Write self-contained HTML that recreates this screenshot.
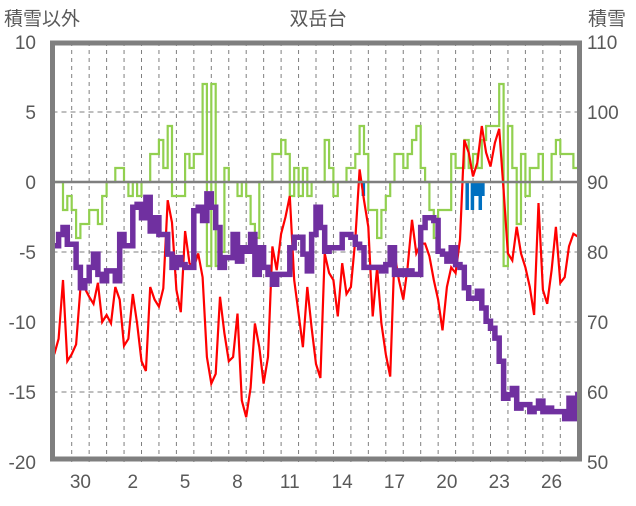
<!DOCTYPE html>
<html><head><meta charset="utf-8">
<style>
body{margin:0;background:#fff;width:636px;height:501px;overflow:hidden;}
svg text{font-family:"Liberation Sans","Noto Sans CJK JP",sans-serif;fill:#595959;font-size:19px;}
</style></head><body>
<svg id="chart" width="636" height="501" xmlns="http://www.w3.org/2000/svg">
<g id="grid"></g>
<g id="series"></g>
<rect x="52.5" y="43" width="527" height="416" fill="none" stroke="#7f7f7f" stroke-width="5"/>
<text x="318" y="25" text-anchor="middle">双岳台</text>
<text x="4" y="25">積雪以外</text>
<text x="588" y="25">積雪</text>
<g id="axes"></g>
</svg>
<script>
const leftTicks=[10,5,0,-5,-10,-15,-20];
const rightTicks=[110,100,90,80,70,60,50];
const xLabels=["30","2","5","8","11","14","17","20","23","26"];
const xLabelDays=[0,3,6,9,12,15,18,21,24,27];
const tStart=-1, tStep=0.25;
const redVals=[-12.3,-11.2,-7.0,-12.8,-12.3,-11.6,-7.6,-7.6,-8.2,-8.7,-7.2,-10.0,-9.5,-10.1,-7.5,-8.4,-11.7,-11.2,-8.0,-10.1,-12.8,-13.5,-7.5,-8.4,-8.9,-7.6,-1.3,-2.9,-7.7,-9.3,-3.5,-5.8,-6.1,-5.1,-6.8,-12.5,-14.4,-13.7,-8.2,-10.8,-12.8,-12.5,-9.4,-15.6,-16.8,-14.7,-10.1,-11.8,-14.4,-12.5,-4.6,-6.3,-3.7,-2.5,-1.0,-7.0,-9.4,-11.8,-7.5,-10.4,-13.0,-14.0,-5.1,-6.5,-7.0,-9.6,-5.8,-8.0,-7.5,-4.1,0.9,-1.3,-3.2,-9.6,-6.1,-10.1,-12.3,-13.9,-5.1,-7.0,-8.4,-6.1,-2.7,-5.1,-4.4,-4.4,-5.3,-7.0,-8.4,-10.6,-7.5,-6.1,-6.5,-4.1,3.0,2.1,0.4,1.4,4.0,2.1,1.1,2.8,3.8,-0.6,-5.1,-5.6,-3.2,-5.1,-6.1,-7.5,-9.5,-1.5,-7.7,-8.7,-6.3,-3.2,-7.2,-6.8,-4.6,-3.7,-3.9];
const greenVals=[0,0,-2,-1,-2,-4,-3,-3,-2,-2,-3,-1,0,0,1,1,0,-1,0,-1,0,0,2,2,3,1,4,-1,-1,-1,2,1,2,2,7,-6,7,-6,-5,1,0,0,-1,0,-1,-3,-4,0,0,0,2,2,3,2,-1,1,-1,1,-1,0,0,0,3,1,-1,0,0,1,1,2,4,2,-2,-2,-4,-2,-1,0,2,2,1,2,3,4,1,0,-2,-4,-2,-2,-2,2,1,1,3,1,2,1,3,4,4,4,7,-6,4,1,-3,2,-1,1,1,2,0,0,2,3,2,2,2,1,1];
const snowVals=[80.9,82.5,83.5,81.1,81.1,77.8,74.9,75.9,77.8,79.7,76.8,75.9,77.3,77.3,75.9,82.5,80.9,80.9,86.4,86.8,84.9,87.8,83.0,84.9,82.5,82.5,79.7,77.8,79.2,78.2,77.8,77.8,85.9,86.4,84.5,88.3,86.4,83.5,77.8,79.2,79.2,82.5,78.7,80.6,80.1,82.5,76.8,80.6,77.8,76.8,75.4,76.8,76.8,76.8,80.6,82.1,82.1,79.7,77.3,82.5,86.4,83.5,80.1,80.6,80.6,80.6,82.5,82.5,82.1,81.1,80.6,77.8,77.8,77.8,77.8,77.3,78.2,80.6,76.8,77.3,76.8,77.3,76.8,76.8,83.5,84.9,84.9,84.5,80.1,79.7,78.7,80.6,78.2,77.8,74.9,73.4,73.4,74.4,72.0,70.1,69.1,67.7,64.4,59.1,59.6,60.5,57.7,58.2,58.2,57.2,57.7,58.7,57.2,57.7,57.2,57.2,57.2,56.2,59.1,56.2,59.6];
const precipDays=[16.7,22.65,22.95,23.1,23.25,23.4,23.55];
const precipVals=[-1,-2,-2,-1,-1,-2,-1];

const NS="http://www.w3.org/2000/svg";
const X0=52.5,X1=579.5,Y0=42,Y1=462;
const dayPx=17.45, day0=71.7;
function xT(t){return day0+t*dayPx;}
function yL(v){return 182-v*14;}
function yR(v){return 182-(v-90)*7;}
function mk(tag,attrs,parent){const e=document.createElementNS(NS,tag);for(const k in attrs)e.setAttribute(k,attrs[k]);parent.appendChild(e);return e;}
const grid=document.getElementById('grid'),axes=document.getElementById('axes'),ser=document.getElementById('series');
for(let d=-1;d<=29;d++){const x=xT(d);if(x<=X0+3||x>=X1-3)continue;
 const l=mk('line',{x1:x,x2:x,y1:Y0,y2:Y1,stroke:'#7f7f7f','stroke-width':1,'stroke-dasharray':'4,4'},grid);
 
 }
leftTicks.forEach((v,i)=>{const y=yL(v);
 if(v!==10&&v!==-20&&v!==0){const l=mk('line',{x1:X0,x2:X1,y1:y,y2:y,stroke:'#7f7f7f','stroke-width':1,'stroke-dasharray':'5,4'},grid);
 
 }
 const t=mk('text',{x:36,y:y+7,'text-anchor':'end'},axes);t.textContent=v;
 
 
 const r=mk('text',{x:587,y:yR(rightTicks[i])+7},axes);r.textContent=rightTicks[i];
 
 });
xLabels.forEach((s,i)=>{const t=mk('text',{x:xT(xLabelDays[i])+8.7,y:488,'text-anchor':'middle'},axes);t.textContent=s;
 
 });
precipDays.forEach((d,i)=>{const y=yL(0),y2=yL(precipVals[i]);
 const b=mk('rect',{x:xT(d)-1.5,y:Math.min(y,y2),width:3.5,height:Math.abs(y2-y),fill:'#0070c0'},ser);
 
 });
function pathOf(vals,yf){return vals.map((v,i)=>(i?'L':'M')+xT(tStart+i*tStep).toFixed(1)+','+yf(v).toFixed(1)).join(' ');}
function stepOf(vals,yf){let d='';vals.forEach((v,i)=>{const x=xT(tStart+i*tStep).toFixed(1),y=yf(v).toFixed(1);
 if(i===0)d+='M'+x+','+y;else d+=' H'+x+' V'+y;});return d+' H'+xT(tStart+vals.length*tStep-0.1).toFixed(1);}
const g=mk('path',{d:stepOf(greenVals,yL),fill:'none',stroke:'#92d050','stroke-width':2.2},ser);


const r=mk('path',{d:pathOf(redVals,yL),fill:'none',stroke:'#ff0000','stroke-width':2.2},ser);


const s=mk('path',{d:stepOf(snowVals,yR),fill:'none',stroke:'#7030a0','stroke-width':5.5},ser);


const z=mk('line',{x1:X0,x2:X1,y1:yL(0),y2:yL(0),stroke:'#7f7f7f','stroke-width':2.5},ser);


</script>
</body></html>
